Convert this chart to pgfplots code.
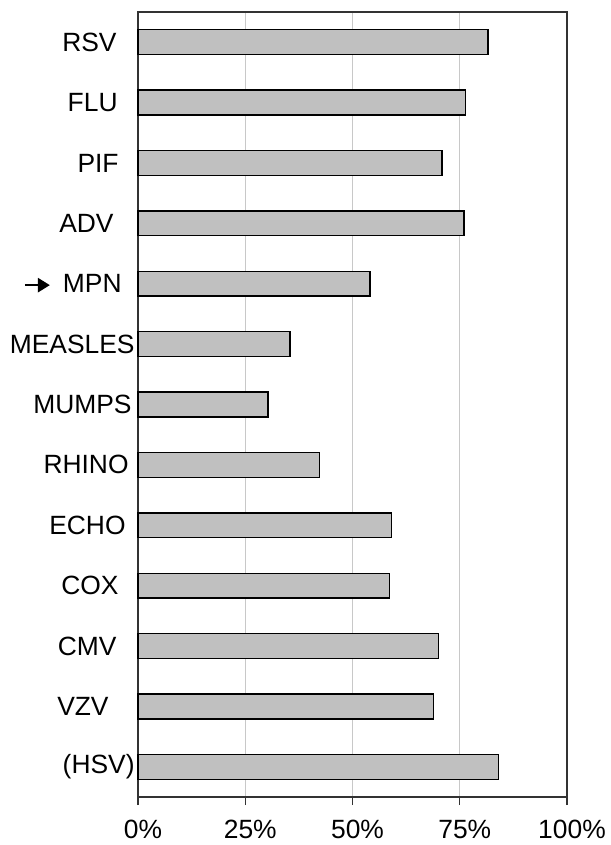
\documentclass[border=0pt]{standalone}
\usepackage{pgfplots}
\pgfplotsset{compat=1.18}
\usetikzlibrary{arrows.meta}
\usepackage{fontspec}
\setmainfont{Liberation Sans}
\definecolor{barfill}{HTML}{C0C0C0}
\definecolor{gridgray}{HTML}{C8C8C8}
\newcommand{\pointer}{\tikz[baseline=-0.55ex]\draw[line width=1.3pt,-{Triangle[length=6pt,width=7pt]}] (0,0)--(12.5pt,0);}

\begin{document}
\begin{tikzpicture}
\begin{axis}[
    scale only axis,
    width=214.5pt, height=392.5pt,
    xbar,
    bar width=12.4pt,
    xmin=0, xmax=100,
    ymin=-0.5, ymax=12.5,
    y dir=reverse,
    xtick={0,25,50,75,100},
    xticklabels={0\%,25\%,50\%,75\%,100\%},
    ytick={0,...,12},
    yticklabels={
        RSV\kern10pt,
        FLU\kern9.5pt,
        PIF\kern9pt,
        ADV\kern11.5pt,
        \pointer\ \,MPN\kern7.5pt,
        MEASLES\kern1pt,
        MUMPS\kern2.5pt,
        RHINO\kern4pt,
        ECHO\kern5.5pt,
        COX\kern9pt,
        CMV\kern10pt,
        VZV\kern14pt,
        (HSV)\kern1pt},
    /pgf/number format/assume math mode=true,
    tick label style={font=\fontsize{13.2}{15}\selectfont},
    yticklabel style={anchor=east, inner sep=0pt, xshift=3.5pt},
    xticklabel style={yshift=-4pt, xshift=2.5pt},
    xtick pos=bottom,
    tick align=outside,
    major tick length=4pt,
    ytick style={draw=none},
    xtick style={draw=black!80, line width=0.6pt},
    xmajorgrids=true,
    major grid style={line width=0.5pt, draw=gridgray},
    axis line style={draw=black!80, line width=0.7pt},
    clip=false,
]
\addplot[fill=barfill, draw=black, line width=0.7pt] coordinates {
    (81.6,0) (76.4,1) (70.9,2) (76.0,3) (54.1,4) (35.4,5) (30.3,6)
    (42.3,7) (59.1,8) (58.6,9) (70.0,10) (68.9,11) (84.0,12)
};
\end{axis}
\pgfresetboundingbox
\path ([xshift=-69pt,yshift=-24pt]current axis.south west)
    rectangle ([xshift=21.5pt,yshift=6pt]current axis.north east);
\end{tikzpicture}
\end{document}
